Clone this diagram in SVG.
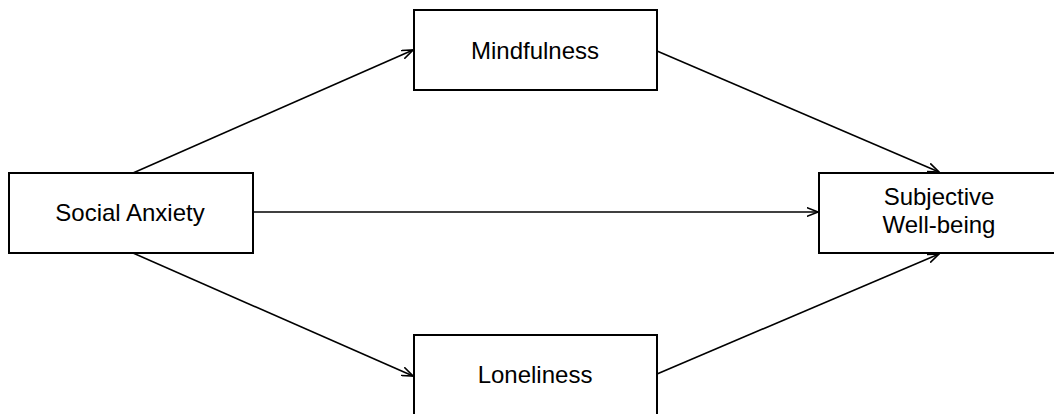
<svg xmlns="http://www.w3.org/2000/svg" width="1054" height="414" viewBox="0 0 1054 414">
<style>
.box{fill:#fff;stroke:#000;stroke-width:2}
.lbl{font-family:"Liberation Sans",Arial,sans-serif;font-size:24px;fill:#000;text-anchor:middle}
.edge{stroke:#000;stroke-width:1.6;fill:none;marker-end:url(#arr)}
</style>
<defs>
<marker id="arr" viewBox="0 0 12 10" refX="11.5" refY="5" markerWidth="12" markerHeight="10" markerUnits="userSpaceOnUse" orient="auto">
<path d="M0,0.5 L11.5,5 L0,9.5" fill="none" stroke="#000" stroke-width="1.6"/>
</marker>
</defs>
<rect width="1054" height="414" fill="#fff"/>
<g id="connectors">
<line class="edge" x1="133" y1="173" x2="413" y2="50"/>
<line class="edge" x1="657" y1="51" x2="939" y2="172"/>
<line class="edge" x1="253" y1="212" x2="818" y2="212"/>
<line class="edge" x1="133" y1="253" x2="413" y2="376"/>
<line class="edge" x1="657" y1="374" x2="939" y2="254"/>
</g>
<g id="social-anxiety">
<rect class="box" x="9" y="173" width="244" height="80"/>
<text class="lbl" x="130" y="221">Social Anxiety</text>
</g>
<g id="mindfulness">
<rect class="box" x="414" y="10" width="243" height="80"/>
<text class="lbl" x="535" y="59">Mindfulness</text>
</g>
<g id="loneliness">
<rect class="box" x="414" y="335" width="243" height="80"/>
<text class="lbl" x="535" y="383">Loneliness</text>
</g>
<g id="subjective-well-being">
<rect class="box" x="819" y="173" width="244" height="80"/>
<text class="lbl" x="939" y="205">Subjective</text>
<text class="lbl" x="939" y="233">Well-being</text>
</g>
</svg>
